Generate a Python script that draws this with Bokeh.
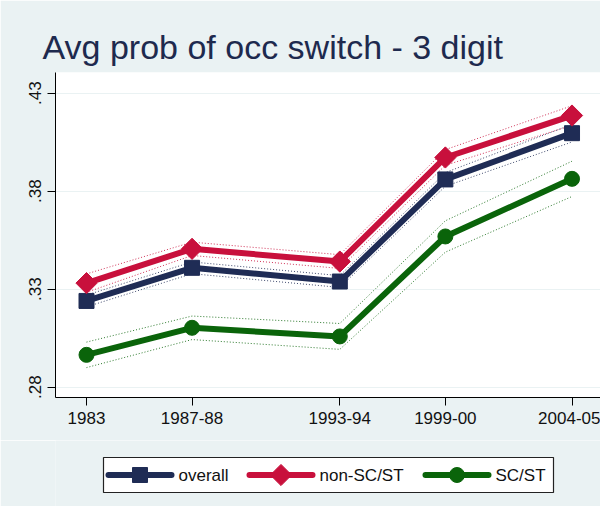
import numpy as np
from bokeh.plotting import figure
from bokeh.layouts import column
from bokeh.models import Range1d, FixedTicker, Title
from bokeh.core.properties import value
from bokeh.embed import file_html
from bokeh.resources import INLINE

# ---------------- data ----------------
rounds = [38, 43, 50, 55, 61]
round_labels = ["1983", "1987-88", "1993-94", "1999-00", "2004-05"]
y_ticks = [0.28, 0.33, 0.38, 0.43]
y_tick_labels = [".28", ".33", ".38", ".43"]

series_names = ["overall", "non-SC/ST", "SC/ST"]
overall = [0.3240, 0.3409, 0.3339, 0.3860, 0.4096]
overall_lo = [0.3210, 0.3379, 0.3309, 0.3825, 0.4051]
overall_hi = [0.3270, 0.3439, 0.3369, 0.3895, 0.4141]
non_scst = [0.3331, 0.3506, 0.3441, 0.3972, 0.4186]
non_scst_lo = [0.3284, 0.3472, 0.3406, 0.3932, 0.4136]
non_scst_hi = [0.3378, 0.3540, 0.3476, 0.4012, 0.4236]
scst = [0.2965, 0.3103, 0.3059, 0.3569, 0.3863]
scst_lo = [0.2900, 0.3043, 0.2993, 0.3489, 0.3773]
scst_hi = [0.3030, 0.3163, 0.3125, 0.3649, 0.3953]

colors = ["#1F2C55", "#C8103C", "#0A640A"]
markers = ["square", "square", "circle"]
marker_angles = [0.0, np.pi / 4, 0.0]
marker_sizes = [15, 15, 15]

BG = "#EAF2F3"
FONT = "Liberation Sans"
TXT = "#111111"

# layout (pixels)
LEFT, RIGHT = 55, 0
FRAME_W, FRAME_H = 545, 325
TOP, BOTTOM = 72, 43
LEG_H = 66

# ---------------- main plot ----------------
p = figure(frame_width=FRAME_W, frame_height=FRAME_H,
           x_range=Range1d(36.531, 36.531 + FRAME_W / 21.109),
           y_range=Range1d(0.27474, 0.27474 + FRAME_H / 1960.0),
           toolbar_location=None, output_backend="svg",
           min_border_left=LEFT, min_border_right=RIGHT,
           min_border_top=TOP, min_border_bottom=BOTTOM)
p.title = Title(text="Avg prob of occ switch - 3 digit", align="left", offset=-13,
                standoff=13, text_font=FONT, text_font_size="34px",
                text_font_style="normal", text_color="#1E2A4E")
p.outline_line_color = None
p.background_fill_color = "white"
p.border_fill_color = BG

p.xgrid.visible = False
p.ygrid.grid_line_color = BG
p.ygrid.grid_line_width = 1
p.ygrid.ticker = FixedTicker(ticks=y_ticks)

p.xaxis.ticker = FixedTicker(ticks=rounds)
p.xaxis.major_label_overrides = {r: l for r, l in zip(rounds, round_labels)}
p.yaxis.ticker = FixedTicker(ticks=y_ticks)
p.yaxis.major_label_overrides = {t: l for t, l in zip(y_ticks, y_tick_labels)}
p.yaxis.major_label_orientation = "vertical"

for ax in (p.xaxis, p.yaxis):
    ax.axis_line_color = "black"
    ax.axis_line_width = 1
    ax.major_tick_line_color = "black"
    ax.major_tick_in = 0
    ax.major_tick_out = 8
    ax.minor_tick_line_color = None
    ax.major_label_text_font = FONT
    ax.major_label_text_font_size = "17px"
    ax.major_label_text_color = TXT
p.xaxis.major_label_standoff = 6
p.yaxis.major_label_standoff = 6

vals = [overall, non_scst, scst]
los = [overall_lo, non_scst_lo, scst_lo]
his = [overall_hi, non_scst_hi, scst_hi]

for lo, hi, c in zip(los, his, colors):
    p.line(rounds, lo, line_color=c, line_width=1, line_dash="1 2", line_alpha=0.85)
    p.line(rounds, hi, line_color=c, line_width=1, line_dash="1 2", line_alpha=0.85)

for v, c, m, a, s in zip(vals, colors, markers, marker_angles, marker_sizes):
    p.line(rounds, v, line_color=c, line_width=6)
    p.scatter(rounds, v, marker=m, angle=a, size=s, fill_color=c, line_color=c)

# ---------------- legend strip (coordinates = pixels) ----------------
page_top = TOP + FRAME_H + BOTTOM
lfig = figure(frame_width=FRAME_W, frame_height=LEG_H,
              x_range=Range1d(LEFT, LEFT + FRAME_W), y_range=Range1d(page_top + LEG_H, page_top),
              x_axis_location=None, y_axis_location=None, toolbar_location=None,
              output_backend="svg", min_border_left=LEFT, min_border_right=RIGHT,
              min_border_top=0, min_border_bottom=0)
lfig.grid.visible = False
lfig.outline_line_color = None
lfig.background_fill_color = BG
lfig.border_fill_color = BG

lfig.quad(left=[103], right=[553], top=[457], bottom=[492], fill_color="white",
          line_color="#222222", line_width=1.2)
item_x = [108, 249, 425]
yc = 474.5
for name, c, m, a, s, x0 in zip(series_names, colors, markers, marker_angles, marker_sizes, item_x):
    lfig.line([x0, x0 + 63], [yc, yc], line_color=c, line_width=6, line_cap="round")
    lfig.scatter([x0 + 31.5], [yc], marker=m, angle=a, size=s, fill_color=c, line_color=c)
    lfig.text(x=[x0 + 70], y=[yc], text=[name], text_font=value(FONT), text_font_size="17px",
              text_color=TXT, text_baseline="middle", text_align="left")

layout = column(p, lfig, spacing=0)
open("out.html", "w").write(file_html(layout, INLINE))
